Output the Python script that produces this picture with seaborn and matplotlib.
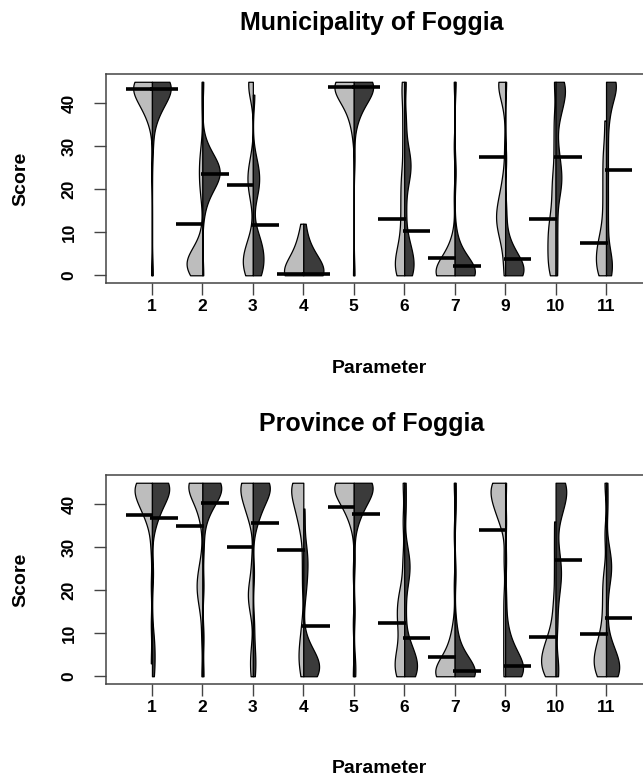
import numpy as np
import pandas as pd
import seaborn as sns
import matplotlib.pyplot as plt

plt.rcParams['font.family'] = ['Liberation Sans', 'DejaVu Sans']

params = ['1', '2', '3', '4', '5', '6', '7', '9', '10', '11']
levels = [0, 3, 6, 9, 12, 15, 18, 21, 24, 27, 30, 33, 36, 39, 42, 45]

# how many observations sit at each score level (one row per parameter)
muni_light = [
    [1, 0, 0, 0, 0, 0, 0, 0, 1, 0, 0, 0, 2, 5, 9, 16],
    [7, 15, 4, 1, 0, 0, 1, 2, 2, 2, 1, 0, 0, 1, 0, 1],
    [3, 4, 3, 1, 0, 0, 1, 2, 2, 1, 0, 0, 0, 0, 1, 3],
    [14, 5, 3, 2, 1, 0, 0, 0, 0, 0, 0, 0, 0, 0, 0, 0],
    [1, 0, 0, 0, 0, 0, 0, 0, 0, 0, 0, 1, 2, 4, 9, 18],
    [3, 3, 2, 1, 1, 1, 1, 1, 1, 0, 1, 0, 1, 0, 1, 1],
    [16, 6, 3, 1, 0, 0, 1, 0, 0, 0, 1, 0, 0, 0, 0, 1],
    [1, 1, 1, 3, 5, 5, 3, 2, 1, 0, 1, 0, 0, 1, 2, 7],
    [2, 2, 2, 2, 2, 1, 1, 1, 1, 0, 1, 0, 1, 0, 0, 1],
    [3, 3, 3, 2, 1, 1, 1, 1, 1, 1, 1, 0, 1, 0, 0, 0],
]
muni_dark = [
    [1, 0, 0, 0, 0, 0, 0, 0, 0, 0, 1, 0, 2, 5, 9, 16],
    [1, 0, 0, 0, 0, 1, 2, 6, 12, 6, 2, 0, 0, 0, 0, 1],
    [3, 3, 3, 2, 0, 0, 1, 2, 2, 1, 0, 0, 0, 0, 1, 0],
    [14, 6, 3, 1, 1, 0, 0, 0, 0, 0, 0, 0, 0, 0, 0, 0],
    [1, 0, 0, 0, 0, 0, 0, 0, 0, 1, 0, 0, 2, 4, 9, 18],
    [3, 3, 2, 1, 0, 1, 0, 1, 2, 2, 1, 0, 1, 0, 0, 1],
    [16, 6, 2, 1, 0, 0, 0, 0, 1, 0, 0, 0, 0, 0, 0, 1],
    [12, 7, 3, 1, 0, 1, 0, 0, 0, 1, 0, 0, 0, 0, 0, 1],
    [1, 0, 1, 0, 1, 0, 1, 2, 2, 1, 1, 0, 1, 2, 3, 4],
    [2, 2, 1, 0, 1, 0, 1, 0, 1, 0, 1, 0, 1, 1, 2, 5],
]
prov_light = [
    [0, 1, 0, 0, 1, 0, 0, 1, 0, 0, 1, 0, 2, 4, 6, 10],
    [1, 0, 0, 1, 0, 1, 2, 3, 2, 1, 0, 0, 1, 2, 4, 11],
    [1, 1, 1, 0, 0, 1, 2, 2, 0, 1, 0, 0, 1, 3, 3, 7],
    [1, 2, 2, 1, 1, 0, 0, 1, 0, 1, 0, 1, 2, 3, 4, 7],
    [1, 0, 0, 0, 1, 0, 0, 0, 1, 0, 0, 0, 2, 4, 7, 15],
    [3, 3, 2, 1, 2, 2, 2, 1, 0, 1, 0, 0, 1, 0, 0, 1],
    [16, 7, 3, 2, 1, 0, 0, 1, 0, 0, 0, 1, 0, 0, 0, 1],
    [1, 0, 1, 0, 1, 0, 1, 0, 0, 1, 0, 0, 2, 3, 4, 6],
    [4, 6, 4, 3, 1, 1, 1, 0, 1, 0, 1, 0, 1, 0, 0, 0],
    [3, 4, 3, 2, 1, 1, 1, 1, 1, 0, 0, 1, 0, 0, 0, 1],
]
prov_dark = [
    [1, 1, 1, 1, 0, 0, 0, 0, 1, 0, 0, 0, 2, 3, 6, 11],
    [1, 0, 0, 1, 0, 0, 0, 1, 0, 0, 1, 0, 1, 3, 6, 12],
    [1, 1, 1, 0, 1, 0, 0, 0, 1, 0, 0, 0, 2, 3, 5, 11],
    [11, 12, 5, 1, 0, 0, 1, 2, 2, 3, 2, 0, 1, 1, 0, 0],
    [1, 1, 0, 0, 0, 1, 0, 0, 0, 1, 0, 0, 2, 4, 7, 15],
    [5, 5, 3, 1, 0, 1, 0, 1, 2, 2, 1, 0, 0, 1, 0, 1],
    [17, 7, 3, 1, 1, 0, 0, 0, 1, 0, 0, 0, 0, 1, 0, 1],
    [11, 9, 4, 2, 1, 0, 1, 0, 0, 1, 0, 0, 1, 0, 0, 1],
    [1, 1, 0, 0, 1, 0, 1, 1, 2, 1, 1, 0, 1, 2, 3, 4],
    [6, 5, 3, 1, 0, 1, 0, 1, 2, 2, 1, 0, 0, 1, 0, 1],
]

# bean lines (group means)
muni_mean_light = [43.3, 12.0, 21.0, 0.3, 43.9, 13.0, 4.0, 27.6, 13.1, 7.6]
muni_mean_dark = [43.3, 23.6, 11.6, 0.3, 43.9, 10.2, 2.1, 3.8, 27.4, 24.6]
prov_mean_light = [37.4, 34.9, 30.1, 29.3, 39.4, 12.3, 4.5, 34.0, 9.1, 9.8]
prov_mean_dark = [36.9, 40.2, 35.7, 11.6, 37.8, 8.9, 1.2, 2.5, 27.1, 13.6]

BW = 3.2  # same smoothing bandwidth (score units) for every bean


def fixed_bw(kde):
    return BW / np.std(kde.dataset, ddof=1)


def long_table(light, dark):
    rows = []
    for i, p in enumerate(params):
        for grp, counts in (('A', light[i]), ('B', dark[i])):
            for lv, c in zip(levels, counts):
                rows += [(p, grp, lv)] * c
    return pd.DataFrame(rows, columns=['parameter', 'group', 'score'])


def draw_panel(ax, light, dark, mean_light, mean_dark, title):
    df = long_table(light, dark)
    sns.violinplot(data=df, x='parameter', y='score', hue='group', order=params,
                   split=True, inner=None, cut=0, bw_method=fixed_bw,
                   density_norm='area', common_norm=True, width=0.8, gridsize=300,
                   palette=['#bdbdbd', '#3b3b3b'], saturation=1,
                   linecolor='black', linewidth=0.9, legend=False, ax=ax)
    pos = np.asarray(ax.get_xticks(), dtype=float)
    ax.hlines(mean_light, pos - 0.52, pos + 0.03, color='black', lw=2.6, zorder=5)
    ax.hlines(mean_dark, pos - 0.03, pos + 0.52, color='black', lw=2.6, zorder=5)

    ax.set_xlim(-0.91, 9.91)
    ax.set_ylim(-1.8, 46.8)
    ax.set_yticks([0, 10, 20, 30, 40])
    ax.set_xticks(pos)
    ax.set_xticklabels(params)
    for s in ax.spines.values():
        s.set_visible(True)
        s.set_color('#444444')
        s.set_linewidth(1.1)
    ax.tick_params(axis='both', direction='out', length=8.5, width=1.0,
                   color='#444444', labelsize=12.5)
    ax.tick_params(axis='x', pad=3.0)
    ax.tick_params(axis='y', pad=12.5)
    for lbl in ax.get_xticklabels() + ax.get_yticklabels():
        lbl.set_fontweight('bold')
    plt.setp(ax.get_yticklabels(), rotation=90, va='center')

    ax.set_xlabel('Parameter', fontsize=14, fontweight='bold')
    ax.set_ylabel('Score', fontsize=14, fontweight='bold')
    ax.xaxis.set_label_coords(0.5, -0.366)
    ax.yaxis.set_label_coords(-0.141, 0.5)
    ax.set_title(title, fontsize=18, fontweight='bold', pad=32, x=0.487)


fig = plt.figure(figsize=(6.43, 7.81), dpi=100)
ax1 = fig.add_axes([0.1649, 0.6376, 0.849, 0.2676])
ax2 = fig.add_axes([0.1649, 0.1242, 0.849, 0.2676])

draw_panel(ax1, muni_light, muni_dark, muni_mean_light, muni_mean_dark,
           'Municipality of Foggia')
draw_panel(ax2, prov_light, prov_dark, prov_mean_light, prov_mean_dark,
           'Province of Foggia')

fig.savefig('out.png', dpi=100)
